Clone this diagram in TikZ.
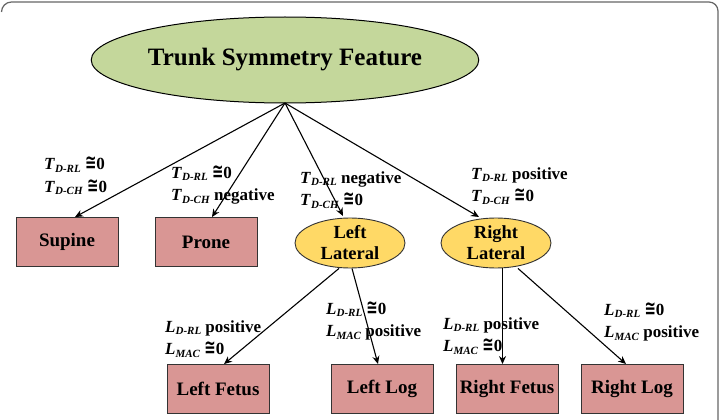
\documentclass[tikz,border=0pt]{standalone}
\usepackage{graphicx}
\usepackage{fontspec}
\setmainfont{Liberation Serif}
\newfontfamily\symfont{DejaVu Sans}
\usetikzlibrary{shapes.geometric,arrows.meta}
\newcommand{\lbl}[2]{\textit{#1}\raisebox{-0.3ex}{\fontsize{11}{11}\selectfont\textit{#2}}}
\newcommand{\cg}{\scalebox{0.8}[1.2]{\symfont\bfseries\fontsize{17}{17}\selectfont ≅}0}
\tikzset{
  conn/.style={draw=black, line width=1.1pt, -{Stealth[length=8pt,width=7pt]}},
  leaf/.style={draw=black!80, line width=0.9pt, fill=leafcol, rectangle, minimum width=102pt, minimum height=49pt, inner sep=0pt, font=\fontsize{19}{20}\selectfont\bfseries},
  mid/.style={draw=black!80, line width=0.9pt, fill=midcol, ellipse, minimum width=110pt, minimum height=50pt, inner sep=0pt, align=center, font=\fontsize{18.5}{21}\selectfont\bfseries},
  lab/.style={anchor=west, inner sep=0pt, align=left, font=\fontsize{17}{22.5}\selectfont\bfseries}
}
\definecolor{leafcol}{RGB}{217,150,148}
\definecolor{midcol}{RGB}{255,217,102}
\definecolor{topcol}{RGB}{196,215,155}
\begin{document}
\begin{tikzpicture}[x=1pt,y=-1pt]
\useasboundingbox (0,0) rectangle (721,420);
\fill[white] (0,0) rectangle (721,420);
\draw[gray!80!black, line width=1.2pt] (1.5,12) arc[start angle=180,end angle=270,x radius=10pt,y radius=-10pt] -- (709,2) arc[start angle=90,end angle=0,radius=9pt] -- (718,421);

\node[draw=black, line width=1pt, fill=topcol, ellipse, minimum width=324pt, minimum height=86pt, inner sep=0pt, font=\fontsize{25}{25}\selectfont\bfseries] (root) at (285,60) {Trunk Symmetry Feature};

\node[leaf] (sup) at (67,242) {Supine};
\node[leaf] (pro) at (206,242) {Prone};
\node[mid] (ll) at (350,243) {Left\\Lateral};
\node[mid] (rl) at (496,243) {Right\\Lateral};
\node[leaf] (lf) at (218,389) {Left Fetus};
\node[leaf] (lg) at (382,389) {Left Log};
\node[leaf] (rf) at (507,389) {Right Fetus};
\node[leaf] (rg) at (632,389) {Right Log};

\coordinate (o) at (285,103);
\draw[conn] (o) -- (sup.north -| 75,0);
\draw[conn] (o) -- (pro.north -| 212,0);
\draw[conn] (o) -- (343,216) coordinate (llt);
\draw[conn] (o) -- (479,217) coordinate (rlt);
\draw[conn] (ll.south -| 339,0) -- (lf.north -| 224,0);
\draw[conn] (ll.south -| 352,0) -- (lg.north -| 378,0);
\draw[conn] (rl.south -| 502.5,0) -- (rf.north -| 502.5,0);
\draw[conn] (rl.south -| 518,0) -- (rg.north -| 626,0);

\node[lab] (l1) at (44,176) {\lbl{T}{D-RL} \cg\\\lbl{T}{D-CH} \cg};
\node[lab] (l2) at (171,185) {\lbl{T}{D-RL} \cg\\\lbl{T}{D-CH} negative};
\node[lab] (l3) at (300,190) {\lbl{T}{D-RL} negative\\\lbl{T}{D-CH} \cg};
\node[lab] (l4) at (471,186) {\lbl{T}{D-RL} positive\\\lbl{T}{D-CH} \cg};
\node[lab] (l5) at (165,339) {\lbl{L}{D-RL} positive\\\lbl{L}{MAC} \cg};
\node[lab] (l6) at (326,321) {\lbl{L}{D-RL} \cg\\\lbl{L}{MAC} positive};
\node[lab] (l7) at (443,336) {\lbl{L}{D-RL} positive\\\lbl{L}{MAC} \cg};
\node[lab] (l8) at (604,322) {\lbl{L}{D-RL} \cg\\\lbl{L}{MAC} positive};
\end{tikzpicture}
\end{document}
